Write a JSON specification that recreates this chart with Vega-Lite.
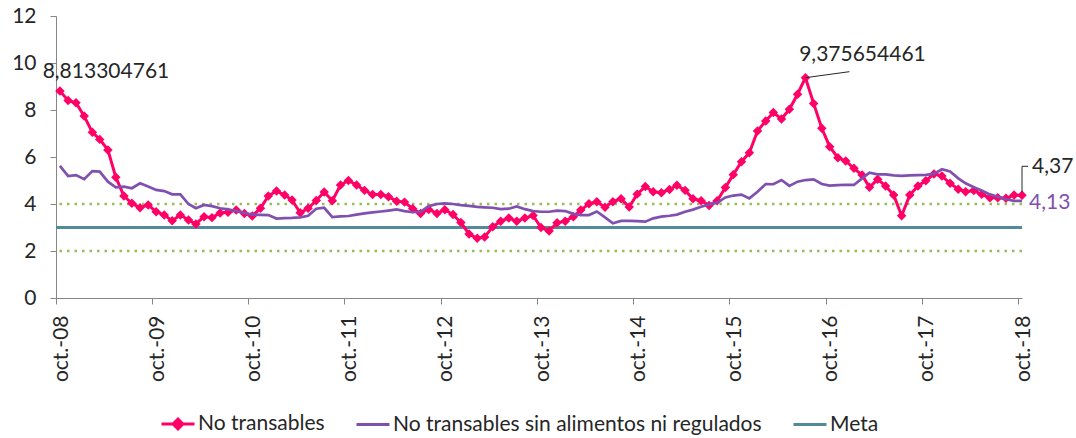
{
  "$schema": "https://vega.github.io/schema/vega-lite/v6.json",
  "width": 966,
  "height": 282,
  "autosize": {"type": "none"},
  "padding": {"left": 56, "top": 16, "right": 54, "bottom": 140},
  "config": {
    "view": {"stroke": null},
    "locale": {"number": {"decimal": ",", "thousands": ".", "grouping": [3], "currency": ["$", ""]}},
    "font": "Lato",
    "axis": {"grid": false, "domainColor": "#868686", "tickColor": "#868686", "labelColor": "#262626", "labelFont": "Lato", "labelFontSize": 21, "title": null, "domainWidth": 1, "tickWidth": 1},
    "text": {"font": "Lato", "fontSize": 21}
  },
  "data": {"values": [
    {"date":"2008-10-16","nt":8.813304761,"ntsa":5.62},
    {"date":"2008-11-16","nt":8.40,"ntsa":5.19},
    {"date":"2008-12-16","nt":8.31,"ntsa":5.23},
    {"date":"2009-01-16","nt":7.74,"ntsa":5.06},
    {"date":"2009-02-16","nt":7.05,"ntsa":5.40},
    {"date":"2009-03-16","nt":6.75,"ntsa":5.38},
    {"date":"2009-04-16","nt":6.30,"ntsa":4.95},
    {"date":"2009-05-16","nt":5.14,"ntsa":4.71},
    {"date":"2009-06-16","nt":4.34,"ntsa":4.74},
    {"date":"2009-07-16","nt":4.03,"ntsa":4.67},
    {"date":"2009-08-16","nt":3.84,"ntsa":4.88},
    {"date":"2009-09-16","nt":3.96,"ntsa":4.74},
    {"date":"2009-10-16","nt":3.67,"ntsa":4.60},
    {"date":"2009-11-16","nt":3.53,"ntsa":4.55},
    {"date":"2009-12-16","nt":3.29,"ntsa":4.41},
    {"date":"2010-01-16","nt":3.53,"ntsa":4.41},
    {"date":"2010-02-16","nt":3.32,"ntsa":4.00},
    {"date":"2010-03-16","nt":3.15,"ntsa":3.82},
    {"date":"2010-04-16","nt":3.46,"ntsa":3.96},
    {"date":"2010-05-16","nt":3.42,"ntsa":3.91},
    {"date":"2010-06-16","nt":3.62,"ntsa":3.82},
    {"date":"2010-07-16","nt":3.65,"ntsa":3.77},
    {"date":"2010-08-16","nt":3.74,"ntsa":3.70},
    {"date":"2010-09-16","nt":3.60,"ntsa":3.62},
    {"date":"2010-10-16","nt":3.49,"ntsa":3.55},
    {"date":"2010-11-16","nt":3.82,"ntsa":3.54},
    {"date":"2010-12-16","nt":4.34,"ntsa":3.53},
    {"date":"2011-01-16","nt":4.55,"ntsa":3.38},
    {"date":"2011-02-16","nt":4.38,"ntsa":3.40},
    {"date":"2011-03-16","nt":4.17,"ntsa":3.41},
    {"date":"2011-04-16","nt":3.63,"ntsa":3.43},
    {"date":"2011-05-16","nt":3.82,"ntsa":3.50},
    {"date":"2011-06-16","nt":4.15,"ntsa":3.80},
    {"date":"2011-07-16","nt":4.51,"ntsa":3.84},
    {"date":"2011-08-16","nt":4.14,"ntsa":3.44},
    {"date":"2011-09-16","nt":4.81,"ntsa":3.47},
    {"date":"2011-10-16","nt":5.00,"ntsa":3.49},
    {"date":"2011-11-16","nt":4.81,"ntsa":3.55},
    {"date":"2011-12-16","nt":4.58,"ntsa":3.60},
    {"date":"2012-01-16","nt":4.40,"ntsa":3.64},
    {"date":"2012-02-16","nt":4.40,"ntsa":3.68},
    {"date":"2012-03-16","nt":4.31,"ntsa":3.72},
    {"date":"2012-04-16","nt":4.12,"ntsa":3.77},
    {"date":"2012-05-16","nt":4.08,"ntsa":3.70},
    {"date":"2012-06-16","nt":3.80,"ntsa":3.65},
    {"date":"2012-07-16","nt":3.60,"ntsa":3.67},
    {"date":"2012-08-16","nt":3.77,"ntsa":3.91},
    {"date":"2012-09-16","nt":3.60,"ntsa":4.00},
    {"date":"2012-10-16","nt":3.76,"ntsa":4.03},
    {"date":"2012-11-16","nt":3.55,"ntsa":4.00},
    {"date":"2012-12-16","nt":3.21,"ntsa":3.95},
    {"date":"2013-01-16","nt":2.72,"ntsa":3.92},
    {"date":"2013-02-16","nt":2.54,"ntsa":3.88},
    {"date":"2013-03-16","nt":2.60,"ntsa":3.86},
    {"date":"2013-04-16","nt":3.03,"ntsa":3.84},
    {"date":"2013-05-16","nt":3.27,"ntsa":3.78},
    {"date":"2013-06-16","nt":3.40,"ntsa":3.80},
    {"date":"2013-07-16","nt":3.27,"ntsa":3.90},
    {"date":"2013-08-16","nt":3.40,"ntsa":3.78},
    {"date":"2013-09-16","nt":3.51,"ntsa":3.70},
    {"date":"2013-10-16","nt":3.00,"ntsa":3.67},
    {"date":"2013-11-16","nt":2.85,"ntsa":3.67},
    {"date":"2013-12-16","nt":3.20,"ntsa":3.72},
    {"date":"2014-01-16","nt":3.27,"ntsa":3.70},
    {"date":"2014-02-16","nt":3.46,"ntsa":3.58},
    {"date":"2014-03-16","nt":3.74,"ntsa":3.53},
    {"date":"2014-04-16","nt":4.01,"ntsa":3.53},
    {"date":"2014-05-16","nt":4.10,"ntsa":3.68},
    {"date":"2014-06-16","nt":3.86,"ntsa":3.43},
    {"date":"2014-07-16","nt":4.10,"ntsa":3.18},
    {"date":"2014-08-16","nt":4.22,"ntsa":3.28},
    {"date":"2014-09-16","nt":3.87,"ntsa":3.28},
    {"date":"2014-10-16","nt":4.42,"ntsa":3.27},
    {"date":"2014-11-16","nt":4.74,"ntsa":3.25},
    {"date":"2014-12-16","nt":4.52,"ntsa":3.39},
    {"date":"2015-01-16","nt":4.48,"ntsa":3.46},
    {"date":"2015-02-16","nt":4.62,"ntsa":3.50},
    {"date":"2015-03-16","nt":4.80,"ntsa":3.55},
    {"date":"2015-04-16","nt":4.58,"ntsa":3.67},
    {"date":"2015-05-16","nt":4.22,"ntsa":3.76},
    {"date":"2015-06-16","nt":4.14,"ntsa":3.88},
    {"date":"2015-07-16","nt":3.94,"ntsa":3.98},
    {"date":"2015-08-16","nt":4.14,"ntsa":4.05},
    {"date":"2015-09-16","nt":4.70,"ntsa":4.28},
    {"date":"2015-10-16","nt":5.25,"ntsa":4.36},
    {"date":"2015-11-16","nt":5.80,"ntsa":4.40},
    {"date":"2015-12-16","nt":6.18,"ntsa":4.24},
    {"date":"2016-01-16","nt":7.11,"ntsa":4.52},
    {"date":"2016-02-16","nt":7.53,"ntsa":4.85},
    {"date":"2016-03-16","nt":7.89,"ntsa":4.84},
    {"date":"2016-04-16","nt":7.62,"ntsa":5.02},
    {"date":"2016-05-16","nt":8.03,"ntsa":4.77},
    {"date":"2016-06-16","nt":8.67,"ntsa":4.95},
    {"date":"2016-07-16","nt":9.375654461,"ntsa":5.02},
    {"date":"2016-08-16","nt":8.28,"ntsa":5.05},
    {"date":"2016-09-16","nt":7.22,"ntsa":4.85},
    {"date":"2016-10-16","nt":6.44,"ntsa":4.78},
    {"date":"2016-11-16","nt":5.97,"ntsa":4.80},
    {"date":"2016-12-16","nt":5.83,"ntsa":4.82},
    {"date":"2017-01-16","nt":5.52,"ntsa":4.81},
    {"date":"2017-02-16","nt":5.23,"ntsa":5.09},
    {"date":"2017-03-16","nt":4.71,"ntsa":5.33},
    {"date":"2017-04-16","nt":5.05,"ntsa":5.26},
    {"date":"2017-05-16","nt":4.77,"ntsa":5.26},
    {"date":"2017-06-16","nt":4.38,"ntsa":5.22},
    {"date":"2017-07-16","nt":3.50,"ntsa":5.20},
    {"date":"2017-08-16","nt":4.38,"ntsa":5.22},
    {"date":"2017-09-16","nt":4.77,"ntsa":5.23},
    {"date":"2017-10-16","nt":4.99,"ntsa":5.24},
    {"date":"2017-11-16","nt":5.28,"ntsa":5.28},
    {"date":"2017-12-16","nt":5.19,"ntsa":5.48},
    {"date":"2018-01-16","nt":4.88,"ntsa":5.38},
    {"date":"2018-02-16","nt":4.63,"ntsa":5.09},
    {"date":"2018-03-16","nt":4.52,"ntsa":4.88},
    {"date":"2018-04-16","nt":4.57,"ntsa":4.71},
    {"date":"2018-05-16","nt":4.41,"ntsa":4.57},
    {"date":"2018-06-16","nt":4.27,"ntsa":4.41},
    {"date":"2018-07-16","nt":4.27,"ntsa":4.31},
    {"date":"2018-08-16","nt":4.24,"ntsa":4.20},
    {"date":"2018-09-16","nt":4.38,"ntsa":4.13},
    {"date":"2018-10-16","nt":4.37,"ntsa":4.13}
  ]},
  "layer": [
    {
      "data": {"values": [{"level": 2}, {"level": 4}]},
      "mark": {"type": "rule", "color": "#9BBB59", "strokeWidth": 2.5, "strokeDash": [2.5, 5]},
      "encoding": {"y": {"field": "level", "type": "quantitative", "scale": {"domain": [0, 12], "nice": false}, "axis": {"values": [0, 2, 4, 6, 8, 10, 12], "tickSize": 6, "labelPadding": 14}}}
    },
    {
      "data": {"values": [{"meta": 3}]},
      "mark": {"type": "rule", "color": "#518A98", "strokeWidth": 3},
      "encoding": {"y": {"field": "meta", "type": "quantitative", "scale": {"domain": [0, 12], "nice": false}, "axis": {"values": [0, 2, 4, 6, 8, 10, 12], "tickSize": 6, "labelPadding": 14}}}
    },
    {
      "transform": [{"fold": ["nt", "ntsa"], "as": ["series", "value"]}],
      "encoding": {
        "x": {
          "field": "date", "type": "temporal",
          "scale": {"type": "utc", "nice": false, "domain": [{"year": 2008, "month": 10, "date": 1, "utc": true}, {"year": 2018, "month": 10, "date": 16, "utc": true}]},
          "axis": {
            "values": [
              {"year": 2008, "month": 10, "date": 1, "utc": true},
              {"year": 2009, "month": 10, "date": 1, "utc": true},
              {"year": 2010, "month": 10, "date": 1, "utc": true},
              {"year": 2011, "month": 10, "date": 1, "utc": true},
              {"year": 2012, "month": 10, "date": 1, "utc": true},
              {"year": 2013, "month": 10, "date": 1, "utc": true},
              {"year": 2014, "month": 10, "date": 1, "utc": true},
              {"year": 2015, "month": 10, "date": 1, "utc": true},
              {"year": 2016, "month": 10, "date": 1, "utc": true},
              {"year": 2017, "month": 10, "date": 1, "utc": true},
              {"year": 2018, "month": 10, "date": 1, "utc": true}
            ],
            "labelAngle": 270,
            "labelExpr": "'oct.-' + utcFormat(datum.value, '%y')",
            "tickSize": 6,
            "labelPadding": 11,
            "labelOffset": 5
          }
        },
        "y": {
          "field": "value", "type": "quantitative",
          "scale": {"domain": [0, 12], "nice": false},
          "axis": {"values": [0, 2, 4, 6, 8, 10, 12], "tickSize": 6, "labelPadding": 14}
        }
      },
      "layer": [
        {
          "transform": [{"filter": "datum.series === 'nt'"}],
          "mark": {"type": "line", "strokeWidth": 3},
          "encoding": {
            "color": {
              "field": "series", "type": "nominal",
              "scale": {"domain": ["nt", "ntsa", "meta"], "range": ["#FF0066", "#8050B0", "#518A98"]},
              "legend": {
                "orient": "none", "legendX": 104, "legendY": 390, "direction": "horizontal",
                "title": null, "symbolType": "stroke", "symbolSize": 1089, "symbolStrokeWidth": 3,
                "labelFont": "Lato", "labelFontSize": 21, "labelColor": "#262626", "labelLimit": 600,
                "columnPadding": 25, "labelOffset": 2,
                "labelExpr": "datum.value === 'nt' ? 'No transables' : datum.value === 'ntsa' ? 'No transables sin alimentos ni regulados' : 'Meta'",
                "encoding": {
                  "symbols": {
                    "shape": {"value": {"expr": "datum.value === 'nt' ? 'M-1,0L1,0M0,-0.3L0.3,0L0,0.3L-0.3,0Z' : 'stroke'"}},
                    "fill": {"value": {"expr": "datum.value === 'nt' ? '#FF0066' : 'transparent'"}}
                  }
                }
              }
            }
          }
        },
        {
          "transform": [{"filter": "datum.series === 'nt'"}],
          "mark": {"type": "point", "shape": "diamond", "filled": true, "size": 90, "color": "#FF0066", "opacity": 1}
        },
        {
          "transform": [{"filter": "datum.series === 'ntsa'"}],
          "mark": {"type": "line", "strokeWidth": 2.7},
          "encoding": {
            "color": {
              "field": "series", "type": "nominal",
              "scale": {"domain": ["nt", "ntsa", "meta"], "range": ["#FF0066", "#8050B0", "#518A98"]},
              "legend": null
            }
          }
        },
        {
          "transform": [{"filter": "datum.series === 'nt' && utcyear(toDate(datum.date)) === 2008 && utcmonth(toDate(datum.date)) === 9"}],
          "mark": {"type": "text", "align": "center", "baseline": "middle", "dx": 46, "dy": -19, "color": "#262626", "fontSize": 21, "font": "Lato"},
          "encoding": {"text": {"field": "value", "type": "quantitative", "format": ".10"}}
        },
        {
          "transform": [{"filter": "datum.series === 'nt' && utcyear(toDate(datum.date)) === 2016 && utcmonth(toDate(datum.date)) === 6"}],
          "mark": {"type": "rule", "color": "#262626", "strokeWidth": 1, "x2Offset": 44, "y2Offset": -6},
          "encoding": {"x2": {"field": "date"}, "y2": {"field": "value"}}
        },
        {
          "transform": [{"filter": "datum.series === 'nt' && utcyear(toDate(datum.date)) === 2016 && utcmonth(toDate(datum.date)) === 6"}],
          "mark": {"type": "text", "align": "center", "baseline": "middle", "dx": 57, "dy": -23, "color": "#262626", "fontSize": 21, "font": "Lato"},
          "encoding": {"text": {"field": "value", "type": "quantitative", "format": ".10"}}
        },
        {
          "transform": [{"filter": "datum.series === 'nt' && utcyear(toDate(datum.date)) === 2018 && utcmonth(toDate(datum.date)) === 9"}],
          "mark": {"type": "rule", "color": "#262626", "strokeWidth": 1, "yOffset": -3, "y2Offset": -29},
          "encoding": {"x2": {"field": "date"}, "y2": {"field": "value"}}
        },
        {
          "transform": [{"filter": "datum.series === 'nt' && utcyear(toDate(datum.date)) === 2018 && utcmonth(toDate(datum.date)) === 9"}],
          "mark": {"type": "rule", "color": "#262626", "strokeWidth": 1, "yOffset": -29, "y2Offset": -29, "x2Offset": 6},
          "encoding": {"x2": {"field": "date"}, "y2": {"field": "value"}}
        },
        {
          "transform": [{"filter": "datum.series === 'nt' && utcyear(toDate(datum.date)) === 2018 && utcmonth(toDate(datum.date)) === 9"}],
          "mark": {"type": "text", "align": "left", "baseline": "middle", "dx": 10, "dy": -28, "color": "#262626", "fontSize": 21, "font": "Lato"},
          "encoding": {"text": {"field": "value", "type": "quantitative", "format": ".3"}}
        },
        {
          "transform": [{"filter": "datum.series === 'ntsa' && utcyear(toDate(datum.date)) === 2018 && utcmonth(toDate(datum.date)) === 9"}],
          "mark": {"type": "text", "align": "left", "baseline": "middle", "dx": 7, "dy": 2, "color": "#8050B0", "fontSize": 21, "font": "Lato"},
          "encoding": {"text": {"field": "value", "type": "quantitative", "format": ".3"}}
        }
      ]
    }
  ]
}
